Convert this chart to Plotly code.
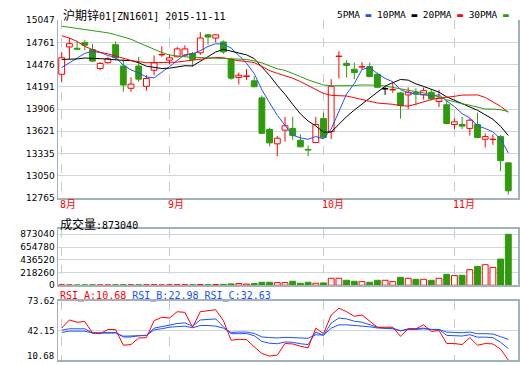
import pandas as pd
import plotly.graph_objects as go

# ---------------- data ----------------
trade_days = pd.bdate_range("2015-08-12", "2015-11-11")
holidays = pd.to_datetime(["2015-09-03", "2015-09-04", "2015-10-01", "2015-10-02",
                           "2015-10-05", "2015-10-06", "2015-10-07"])
dates = [d for d in trade_days if d not in holidays]

open_ = [14352, 14702, 14685, 14757, 14668, 14425, 14500, 14731, 14457, 14172,
         14457, 14197, 14403, 14600, 14533, 14576, 14596, 14618, 14627, 14858,
         14816, 14766, 14542, 14311, 14323, 14268, 14049, 13645, 13460, 13636,
         13658, 13506, 13389, 13477, 13784, 13616, 14580, 14491, 14416, 14445,
         14450, 14352, 14163, 14151, 14113, 14087, 14121, 14087, 14121, 14003,
         13961, 13708, 13708, 13658, 13708, 13519, 13515, 13553, 13216]
high = [14639, 14816, 14773, 14795, 14744, 14508, 14576, 14773, 14551, 14311,
        14576, 14340, 14593, 14710, 14605, 14702, 14723, 14639, 14892, 14865,
        14865, 14786, 14563, 14374, 14416, 14323, 14078, 13667, 13561, 13806,
        13806, 13582, 13439, 13806, 13860, 14289, 14647, 14533, 14500, 14508,
        14500, 14374, 14205, 14248, 14125, 14184, 14172, 14184, 14154, 14154,
        14015, 13784, 13806, 13784, 13860, 13595, 13582, 13573, 13228]
low = [14255, 14542, 14660, 14660, 14508, 14407, 14488, 14533, 14129, 14129,
       14255, 14142, 14340, 14576, 14479, 14570, 14576, 14450, 14601, 14731,
       14760, 14614, 14281, 14222, 14281, 14185, 13582, 13427, 13300, 13490,
       13510, 13414, 13300, 13468, 13532, 13523, 14298, 14311, 14289, 14407,
       14311, 14176, 14087, 14113, 13784, 13902, 13952, 14028, 14015, 13932,
       13708, 13649, 13649, 13566, 13532, 13414, 13447, 13111, 12808]
close = [14563, 14744, 14672, 14725, 14521, 14491, 14551, 14563, 14214, 14226,
         14289, 14298, 14500, 14605, 14563, 14677, 14677, 14542, 14816, 14829,
         14858, 14639, 14302, 14340, 14331, 14192, 13595, 13472, 13532, 13692,
         13566, 13422, 13380, 13708, 13544, 14197, 14584, 14466, 14374, 14450,
         14323, 14185, 14163, 14154, 13952, 14121, 14100, 14142, 14037, 14046,
         13721, 13742, 13687, 13763, 13540, 13553, 13519, 13245, 12858]
volume = [8000, 6000, 5000, 6000, 7000, 6000, 5000, 7000, 9000, 7000,
          8000, 7000, 8000, 6000, 7000, 8000, 9000, 8000, 12000, 10000,
          12000, 15000, 23000, 28000, 20000, 28000, 51000, 51000, 45000, 45000,
          68000, 34000, 51000, 34000, 40000, 119000, 119000, 85000, 68000, 62000,
          51000, 85000, 85000, 62000, 136000, 119000, 102000, 102000, 85000, 119000,
          187000, 165000, 170000, 267000, 323000, 352000, 306000, 448000, 873040]

ma5 = [14437, 14500, 14563, 14620, 14645, 14631, 14592, 14570, 14468, 14409,
       14369, 14318, 14305, 14384, 14451, 14529, 14604, 14613, 14655, 14708,
       14744, 14737, 14689, 14594, 14494, 14361, 14152, 13986, 13824, 13697,
       13571, 13537, 13518, 13554, 13524, 13650, 13883, 14100, 14233, 14414,
       14439, 14360, 14299, 14255, 14155, 14115, 14098, 14094, 14070, 14089,
       14009, 13938, 13847, 13792, 13691, 13657, 13612, 13524, 13343]
ma10 = [14542, 14542, 14548, 14560, 14560, 14552, 14545, 14535, 14530, 14527,
        14500, 14455, 14438, 14426, 14430, 14449, 14461, 14459, 14519, 14580,
        14637, 14671, 14651, 14624, 14601, 14553, 14444, 14337, 14209, 14095,
        13966, 13844, 13752, 13689, 13610, 13611, 13710, 13809, 13893, 13969,
        14045, 14121, 14199, 14244, 14285, 14277, 14229, 14196, 14163, 14122,
        14062, 14018, 13970, 13931, 13890, 13833, 13775, 13685, 13567]
ma20 = [14845, 14816, 14773, 14710, 14668, 14634, 14614, 14584, 14555, 14529,
        14513, 14500, 14500, 14500, 14500, 14508, 14521, 14533, 14542, 14553,
        14568, 14563, 14544, 14525, 14516, 14501, 14453, 14398, 14364, 14337,
        14301, 14258, 14202, 14157, 14106, 14082, 14077, 14073, 14051, 14032,
        14005, 13983, 13976, 13967, 13948, 13944, 13969, 14003, 14028, 14046,
        14053, 14069, 14085, 14088, 14087, 14055, 14002, 13941, 13865]
ma30 = [14968, 14953, 14940, 14927, 14915, 14900, 14883, 14858, 14833, 14801,
        14757, 14713, 14668, 14630, 14599, 14586, 14576, 14570, 14567, 14563,
        14561, 14557, 14555, 14551, 14542, 14523, 14498, 14460, 14422, 14401,
        14367, 14323, 14280, 14246, 14214, 14204, 14205, 14202, 14207, 14215,
        14216, 14212, 14201, 14186, 14165, 14147, 14128, 14114, 14088, 14062,
        14024, 13994, 13974, 13955, 13928, 13907, 13905, 13897, 13874]

rsi_a = [44.6, 53.3, 50.9, 51.6, 39.4, 38.7, 43.2, 43.2, 26.4, 27.1,
         34.1, 34.5, 52.6, 56.1, 55.4, 62.1, 61.4, 45.6, 62.1, 63.1,
         64.2, 52.6, 31.7, 32.7, 32.4, 24.7, 17.6, 14.9, 15.9, 28.2,
         27.8, 25.4, 23.6, 44.6, 38.7, 58.6, 65.9, 62.1, 57.2, 58.6,
         51.6, 45.6, 45.6, 45.6, 35.9, 43.9, 43.9, 48.1, 41.1, 42.15,
         28.2, 28.2, 27.1, 34.5, 26.4, 28.2, 27.8, 22.2, 10.68]
rsi_b = [42.5, 43.9, 43.9, 43.9, 39.4, 39.4, 40.0, 40.0, 35.2, 35.2,
         36.5, 36.9, 44.6, 46.5, 48.1, 49.5, 50.2, 46.7, 53.3, 54.0,
         54.4, 46.0, 38.7, 38.7, 38.9, 36.5, 30.5, 28.5, 28.0, 29.9,
         29.5, 28.0, 27.1, 40.4, 36.9, 50.0, 55.4, 54.4, 52.0, 50.9,
         48.1, 45.6, 44.6, 44.6, 41.5, 43.9, 43.9, 44.6, 43.2, 43.2,
         36.9, 36.5, 36.2, 37.6, 35.0, 35.0, 34.5, 29.5, 22.98]
rsi_c = [40.0, 41.4, 41.4, 41.4, 39.4, 39.4, 39.4, 39.4, 36.0, 36.0,
         36.5, 36.9, 42.8, 44.0, 45.6, 46.2, 46.7, 45.0, 47.4, 47.4,
         46.7, 44.6, 40.0, 40.4, 40.4, 39.0, 35.2, 34.6, 34.1, 34.8,
         34.5, 34.1, 33.8, 37.6, 37.2, 44.6, 48.1, 48.1, 47.4, 47.4,
         46.0, 44.8, 44.0, 43.9, 42.0, 43.2, 43.2, 43.9, 43.2, 43.2,
         40.4, 39.7, 39.7, 40.4, 38.7, 38.7, 38.3, 35.5, 32.63]

price_ticks = [12765, 13050, 13335, 13621, 13906, 14191, 14476, 14761, 15047]
volume_ticks = [0, 218260, 436520, 654780, 873040]
rsi_ticks = [10.68, 42.15, 73.62]
month_names = ["8月", "9月", "10月", "11月"]
legend_names = ["5PMA", "10PMA", "20PMA", "30PMA"]
title_name = "沪期锌"
title_code = "01[ZN1601] 2015-11-11"
volume_name = "成交量"

# ---------------- styling ----------------
RED = "#ff0000"
GREEN = "#2f9a0c"
BLUE = "#2050ff"
BLACK = "#000000"
GRID = "#cfd7da"
VGRID = "#c4ccd0"
AXIS = "#a3b1b8"
MONO = "DejaVu Sans Mono, Noto Sans CJK SC"
CJK = "Noto Sans CJK SC"
MA_COLORS = [BLUE, BLACK, RED, GREEN]

n = len(close)
x = list(range(n))
month_idx = [i for i in range(n) if i == 0 or dates[i].month != dates[i - 1].month]
xr = [-0.48, n - 1 + 1.26]


def col(o, c):
    if c > o:
        return RED
    if c < o:
        return GREEN
    return BLACK


ccol = [col(o, c) for o, c in zip(open_, close)]
body = [(c - o) if abs(c - o) >= 5 else 5 for o, c in zip(open_, close)]
body_fill = ["white" if cc == RED else cc for cc in ccol]

fig = go.Figure()

# candle wicks, one trace per colour
for colr in (RED, GREEN, BLACK):
    xs, ys = [], []
    for i in range(n):
        if ccol[i] != colr:
            continue
        top = max(open_[i], close[i])
        bot = min(open_[i], close[i])
        xs += [i, i, None, i, i, None]
        ys += [top, high[i], None, low[i], bot, None]
    fig.add_trace(go.Scatter(x=xs, y=ys, mode="lines", line=dict(color=colr, width=1),
                             hoverinfo="skip", xaxis="x", yaxis="y"))

# candle bodies
fig.add_trace(go.Bar(x=x, y=body, base=open_, width=0.76,
                     marker=dict(color=body_fill, line=dict(color=ccol, width=1)),
                     xaxis="x", yaxis="y"))

# moving averages
for ser, colr in zip((ma5, ma10, ma20, ma30), MA_COLORS):
    fig.add_trace(go.Scatter(x=x, y=ser, mode="lines", line=dict(color=colr, width=1),
                             xaxis="x", yaxis="y"))

# volume
vup = [c >= o for o, c in zip(open_, close)]
fig.add_trace(go.Bar(x=x, y=volume, width=0.76,
                     marker=dict(color=["white" if u else GREEN for u in vup],
                                 line=dict(color=[RED if u else GREEN for u in vup], width=1)),
                     xaxis="x2", yaxis="y2"))

# RSI
for ser, colr in ((rsi_c, BLUE), (rsi_b, BLUE), (rsi_a, RED)):
    fig.add_trace(go.Scatter(x=x, y=ser, mode="lines", line=dict(color=colr, width=1),
                             xaxis="x3", yaxis="y3"))

xbase = dict(range=xr, tickvals=month_idx, showticklabels=False, ticks="",
             showgrid=True, gridcolor=VGRID, griddash="dash", gridwidth=1,
             zeroline=False, showline=True, linecolor=AXIS, linewidth=1.5)
ybase = dict(ticks="", showgrid=True, gridcolor=GRID, gridwidth=1, zeroline=False,
             showline=True, linecolor=AXIS, linewidth=1.5, mirror=True,
             tickfont=dict(family="DejaVu Sans", size=9, color=BLACK))

fig.update_layout(
    width=520, height=365,
    margin=dict(l=58, r=2, t=20, b=0),
    paper_bgcolor="white", plot_bgcolor="white",
    showlegend=False, barmode="overlay", hovermode=False,
    xaxis=dict(xbase, domain=[0, 1], anchor="y", mirror=False),
    yaxis=dict(ybase, domain=[0.4762, 1], anchor="x",
               range=[price_ticks[0] - 0.5, price_ticks[-1] + 0.5], tickvals=price_ticks,
               ticktext=[str(v) for v in price_ticks]),
    xaxis2=dict(xbase, domain=[0, 1], anchor="y2", mirror=True, matches="x"),
    yaxis2=dict(ybase, domain=[0.2194, 0.3864], anchor="x2",
                range=[-3000, volume_ticks[-1] * 1.112], tickvals=volume_ticks,
                ticktext=[str(v) for v in volume_ticks]),
    xaxis3=dict(xbase, domain=[0, 1], anchor="y3", mirror=True, matches="x"),
    yaxis3=dict(ybase, domain=[0, 0.1739], anchor="x3",
                range=[rsi_ticks[0], rsi_ticks[-1] + 0.01], tickvals=rsi_ticks[1:],
                ticktext=[f"{v:.2f}" for v in rsi_ticks[1:]],
                tickfont=dict(family="DejaVu Sans Mono", size=9, color=BLACK)),
)

H, T = 365, 20
PH = H - T


def py(px):
    return (H - px) / PH


def px_x(px):
    return (px - 58) / 460


ann = []
ann.append(dict(xref="paper", yref="paper", x=px_x(61), y=py(14), xanchor="left", yanchor="middle",
                showarrow=False,
                text=f'<span style="font-family:{CJK};font-size:12px">{title_name}</span>{title_code}',
                font=dict(family=MONO, size=10, color=BLACK)))
legend_txt = " ".join(f"{nm} <span style='color:{c}'>▬</span>"
                      for nm, c in zip(legend_names, MA_COLORS))
ann.append(dict(xref="paper", yref="paper", x=px_x(511), y=py(14), xanchor="right", yanchor="middle",
                showarrow=False, text=legend_txt, font=dict(family=MONO, size=9.5, color=BLACK)))
for idx, name in zip(month_idx, month_names):
    ann.append(dict(xref="x", yref="paper", x=idx - 0.3, y=py(207), xanchor="left", yanchor="middle",
                    showarrow=False, text=name, font=dict(family=MONO, size=10, color=RED),
                    borderpad=0))
ann.append(dict(xref="paper", yref="paper", x=px_x(58), y=py(226), xanchor="left", yanchor="middle",
                showarrow=False,
                text=f'<span style="font-family:{CJK};font-size:12px">{volume_name}</span>:{volume[-1]}',
                font=dict(family=MONO, size=10, color=BLACK)))
rsi_txt = (f"<span style='color:{RED}'>RSI_A:{rsi_a[-1]:.2f}</span> "
           f"<span style='color:{BLUE}'>RSI_B:{rsi_b[-1]:.2f} RSI_C:{rsi_c[-1]:.2f}</span>")
ann.append(dict(xref="paper", yref="paper", x=px_x(58), y=py(300), xanchor="left", yanchor="middle",
                showarrow=False, text=rsi_txt, font=dict(family=MONO, size=10, color=BLACK)))
ann.append(dict(xref="paper", yref="paper", x=px_x(56), y=py(361), xanchor="right", yanchor="middle",
                showarrow=False, text=f"{rsi_ticks[0]:.2f}",
                font=dict(family="DejaVu Sans Mono", size=9, color=BLACK)))
fig.update_layout(annotations=ann)

fig.write_html("out.html", config={"displayModeBar": False, "staticPlot": True},
               post_script="document.body.style.margin='0';document.body.style.overflow='hidden';")
